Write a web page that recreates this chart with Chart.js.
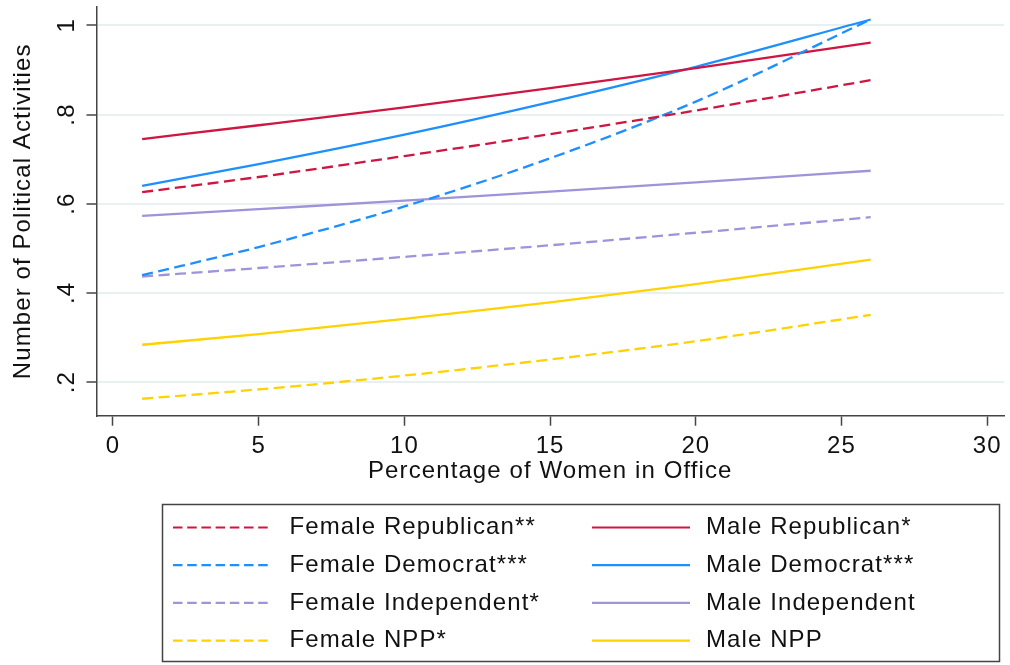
<!DOCTYPE html>
<html>
<head>
<meta charset="utf-8">
<script src="https://cdn.jsdelivr.net/npm/chart.js@4/dist/chart.umd.min.js"></script>
<style>
  html, body { margin: 0; padding: 0; background: #fff; }
  canvas { display: block; }
</style>
</head>
<body>
<canvas id="chart" width="1010" height="665"></canvas>
<script>
// Predicted number of political activities by share of women in office
const womenPct          = [1, 5, 10, 15, 20, 26];
const femaleRepublican  = [0.626, 0.660, 0.707, 0.756, 0.809, 0.877];
const maleRepublican    = [0.745, 0.776, 0.816, 0.859, 0.904, 0.961];
const femaleDemocrat    = [0.440, 0.503, 0.594, 0.702, 0.829, 1.013];
const maleDemocrat      = [0.640, 0.689, 0.755, 0.828, 0.907, 1.013];
const femaleIndependent = [0.437, 0.456, 0.481, 0.507, 0.535, 0.570];
const maleIndependent   = [0.573, 0.588, 0.607, 0.627, 0.648, 0.674];
const femaleNPP         = [0.163, 0.184, 0.215, 0.251, 0.292, 0.351];
const maleNPP           = [0.284, 0.308, 0.342, 0.379, 0.420, 0.475];

const xTicks = [0, 5, 10, 15, 20, 25, 30];
const yTicks = [0.2, 0.4, 0.6, 0.8, 1];
const yTickLabels = ['.2', '.4', '.6', '.8', '1'];

const FONT = "'Liberation Sans', Arial, Helvetica, sans-serif";
const RED = '#cf1541', BLUE = '#1e8fff', PURPLE = '#9f93d9', GOLD = '#ffd200';
const DASH = [11, 5.5];

const series = [
  { label: 'Female Republican**',  values: femaleRepublican,  color: RED,    dashed: true,  col: 0 },
  { label: 'Female Democrat***',   values: femaleDemocrat,    color: BLUE,   dashed: true,  col: 0 },
  { label: 'Female Independent*',  values: femaleIndependent, color: PURPLE, dashed: true,  col: 0 },
  { label: 'Female NPP*',          values: femaleNPP,         color: GOLD,   dashed: true,  col: 0 },
  { label: 'Male Republican*',     values: maleRepublican,    color: RED,    dashed: false, col: 1 },
  { label: 'Male Democrat***',     values: maleDemocrat,      color: BLUE,   dashed: false, col: 1 },
  { label: 'Male Independent',     values: maleIndependent,   color: PURPLE, dashed: false, col: 1 },
  { label: 'Male NPP',             values: maleNPP,           color: GOLD,   dashed: false, col: 1 }
];

const datasets = series.map(s => ({
  label: s.label,
  data: womenPct.map((x, i) => ({ x: x, y: s.values[i] })),
  borderColor: s.color,
  backgroundColor: s.color,
  borderWidth: 2.3,
  borderDash: s.dashed ? DASH : [],
  pointRadius: 0,
  fill: false,
  cubicInterpolationMode: 'monotone',
  legendCol: s.col
}));

// Slightly wider text tracking for every label on the canvas
const textTracking = {
  id: 'textTracking',
  beforeDraw(chart) { chart.ctx.letterSpacing = '1.1px'; }
};

// Boxed two-column key below the plot
const boxedKey = {
  id: 'boxedKey',
  afterDraw(chart) {
    const ctx = chart.ctx;
    const box = { left: 162.5, top: 504.5, right: 999.5, bottom: 661.5 };
    const rowY0 = 527.5, rowStep = 37.7;
    const cols = [
      { lineFrom: 173, lineTo: 272, textX: 289.5 },
      { lineFrom: 592, lineTo: 690, textX: 706 }
    ];
    ctx.save();
    ctx.strokeStyle = '#444';
    ctx.lineWidth = 1.5;
    ctx.strokeRect(box.left, box.top, box.right - box.left, box.bottom - box.top);
    const rows = [0, 0];
    chart.data.datasets.forEach(ds => {
      const c = cols[ds.legendCol];
      const y = rowY0 + rowStep * rows[ds.legendCol]++;
      ctx.beginPath();
      ctx.setLineDash(ds.borderDash.length ? [9.5, 4.7] : []);
      ctx.strokeStyle = ds.borderColor;
      ctx.lineWidth = 2.2;
      ctx.moveTo(c.lineFrom, y);
      ctx.lineTo(c.lineTo, y);
      ctx.stroke();
      ctx.setLineDash([]);
      ctx.fillStyle = '#111';
      ctx.font = '24px ' + FONT;
      ctx.textAlign = 'left';
      ctx.textBaseline = 'middle';
      ctx.fillText(ds.label, c.textX, y);
    });
    ctx.restore();
  }
};

new Chart(document.getElementById('chart'), {
  type: 'line',
  data: { datasets: datasets },
  plugins: [textTracking, boxedKey],
  options: {
    responsive: false,
    devicePixelRatio: 1,
    animation: false,
    layout: { padding: { top: 7, right: 6, bottom: 179, left: 0 } },
    plugins: {
      legend: { display: false },
      tooltip: { enabled: false }
    },
    scales: {
      x: {
        type: 'linear',
        min: -0.566,
        max: 30.575,
        afterBuildTicks: s => { s.ticks = xTicks.map(v => ({ value: v })); },
        afterFit: s => {
          s.height = 70.3;
          s.paddingLeft = 0; s.paddingRight = 0;
        },
        grid: {
          drawOnChartArea: false,
          drawTicks: true,
          tickLength: 10,
          tickColor: '#444',
          tickWidth: 1.5
        },
        border: { display: true, color: '#444', width: 1.5 },
        ticks: {
          autoSkip: false,
          maxRotation: 0,
          minRotation: 0,
          padding: 6.5,
          color: '#111',
          font: { family: FONT, size: 24 }
        },
        title: {
          display: true,
          text: 'Percentage of Women in Office',
          color: '#111',
          font: { family: FONT, size: 24 },
          padding: { top: 0, bottom: 0 }
        }
      },
      y: {
        type: 'linear',
        min: 0.125,
        max: 1.041,
        afterBuildTicks: s => { s.ticks = yTicks.map(v => ({ value: v })); },
        afterFit: s => {
          s.width = 96.5;
          s.paddingTop = 0; s.paddingBottom = 0;
        },
        grid: {
          drawOnChartArea: true,
          color: '#e8f0f0',
          lineWidth: 2,
          drawTicks: true,
          tickLength: 10,
          tickColor: '#444',
          tickWidth: 1.5
        },
        border: { display: true, color: '#444', width: 1.5 },
        ticks: {
          autoSkip: false,
          minRotation: 90,
          maxRotation: 90,
          crossAlign: 'center',
          padding: 9,
          color: '#111',
          font: { family: FONT, size: 24 },
          callback: (value, index) => yTickLabels[index]
        },
        title: {
          display: true,
          text: 'Number of Political Activities',
          color: '#111',
          font: { family: FONT, size: 24 },
          padding: { top: 9, bottom: 0 }
        }
      }
    }
  }
});
</script>
</body>
</html>
